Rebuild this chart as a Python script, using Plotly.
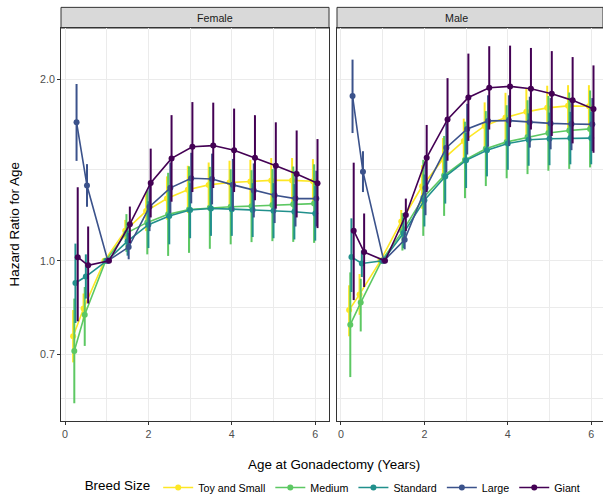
import plotly.graph_objects as go

# ---------------- data ----------------
ages = [0.25, 0.5, 1, 1.5, 2, 2.5, 3, 3.5, 4, 4.5, 5, 5.5, 6]
breeds = ["Toy and Small", "Medium", "Standard", "Large", "Giant"]
sexes = ["Female", "Male"]

# Female
f_toy_hr = [0.75, 0.834, 1.0, 1.122, 1.209, 1.268, 1.311, 1.336, 1.348, 1.353, 1.359, 1.359, 1.355]
f_toy_lo = [0.679, 0.794, 1.0, 1.085, 1.12, 1.17, 1.20, 1.22, 1.23, 1.235, 1.24, 1.24, 1.245]
f_toy_hi = [0.829, 0.883, 1.0, 1.169, 1.30, 1.38, 1.437, 1.455, 1.465, 1.47, 1.48, 1.48, 1.474]

f_med_hr = [0.709, 0.814, 1.0, 1.112, 1.158, 1.194, 1.216, 1.224, 1.229, 1.232, 1.237, 1.241, 1.244]
f_med_lo = [0.581, 0.723, 1.0, 1.035, 1.025, 1.019, 1.031, 1.047, 1.065, 1.074, 1.078, 1.075, 1.071]
f_med_hi = [0.866, 0.905, 1.0, 1.195, 1.308, 1.399, 1.434, 1.431, 1.418, 1.413, 1.419, 1.433, 1.445]

f_std_hr = [0.919, 0.942, 1.0, 1.078, 1.148, 1.187, 1.214, 1.221, 1.218, 1.214, 1.210, 1.206, 1.198]
f_std_lo = [0.789, 0.866, 1.0, 1.02, 1.05, 1.065, 1.09, 1.10, 1.10, 1.095, 1.09, 1.085, 1.08]
f_std_hi = [1.068, 1.025, 1.0, 1.14, 1.255, 1.31, 1.345, 1.355, 1.35, 1.345, 1.345, 1.34, 1.33]

f_lrg_hr = [1.696, 1.333, 1.0, 1.054, 1.229, 1.321, 1.370, 1.366, 1.336, 1.308, 1.284, 1.268, 1.268]
f_lrg_lo = [1.464, 1.229, 1.0, 1.006, 1.12, 1.2, 1.245, 1.24, 1.21, 1.18, 1.155, 1.14, 1.14]
f_lrg_hi = [1.963, 1.446, 1.0, 1.112, 1.35, 1.455, 1.51, 1.505, 1.475, 1.45, 1.425, 1.41, 1.41]

f_gnt_hr = [1.014, 0.983, 1.0, 1.15, 1.346, 1.478, 1.545, 1.552, 1.525, 1.482, 1.437, 1.392, 1.344]
f_gnt_lo = [0.794, 0.85, 1.0, 1.07, 1.18, 1.253, 1.30, 1.32, 1.30, 1.26, 1.22, 1.18, 1.133]
f_gnt_hi = [1.324, 1.14, 1.0, 1.23, 1.534, 1.743, 1.832, 1.828, 1.787, 1.743, 1.696, 1.644, 1.591]

# Male
m_toy_hr = [0.829, 0.880, 1.0, 1.162, 1.329, 1.473, 1.58, 1.673, 1.727, 1.765, 1.792, 1.806, 1.803]
m_toy_lo = [0.75, 0.814, 1.0, 1.11, 1.22, 1.36, 1.455, 1.53, 1.575, 1.6, 1.62, 1.64, 1.64]
m_toy_hi = [0.911, 0.951, 1.0, 1.214, 1.44, 1.597, 1.72, 1.83, 1.898, 1.93, 1.95, 1.954, 1.954]

m_med_hr = [0.784, 0.853, 1.0, 1.119, 1.272, 1.384, 1.469, 1.533, 1.574, 1.603, 1.628, 1.644, 1.654]
m_med_lo = [0.642, 0.764, 1.0, 1.04, 1.10, 1.187, 1.27, 1.33, 1.37, 1.392, 1.41, 1.42, 1.428]
m_med_hi = [0.957, 0.934, 1.0, 1.20, 1.47, 1.61, 1.70, 1.77, 1.81, 1.845, 1.875, 1.90, 1.915]

m_std_hr = [1.015, 0.99, 1.0, 1.112, 1.26, 1.379, 1.467, 1.525, 1.564, 1.587, 1.593, 1.597, 1.597]
m_std_lo = [0.888, 0.94, 1.0, 1.05, 1.14, 1.244, 1.32, 1.38, 1.415, 1.437, 1.44, 1.445, 1.445]
m_std_hi = [1.176, 1.04, 1.0, 1.18, 1.39, 1.53, 1.63, 1.69, 1.73, 1.755, 1.76, 1.765, 1.765]

m_lrg_hr = [1.875, 1.405, 1.0, 1.084, 1.32, 1.539, 1.654, 1.705, 1.707, 1.696, 1.689, 1.685, 1.683]
m_lrg_lo = [1.628, 1.30, 1.0, 1.045, 1.19, 1.40, 1.50, 1.545, 1.55, 1.54, 1.53, 1.525, 1.52]
m_lrg_hi = [2.154, 1.519, 1.0, 1.119, 1.46, 1.69, 1.82, 1.88, 1.88, 1.87, 1.86, 1.86, 1.86]

m_gnt_hr = [1.122, 1.034, 1.0, 1.191, 1.482, 1.715, 1.865, 1.935, 1.945, 1.927, 1.891, 1.844, 1.785]
m_gnt_lo = [0.861, 0.905, 1.0, 1.12, 1.30, 1.465, 1.58, 1.65, 1.665, 1.65, 1.61, 1.565, 1.51]
m_gnt_hi = [1.454, 1.198, 1.0, 1.268, 1.679, 2.007, 2.204, 2.267, 2.272, 2.252, 2.225, 2.175, 2.107]

y_tick_vals = [0.7, 1.0, 2.0]
y_tick_text = ["0.7", "1.0", "2.0"]
x_tick_vals = [0, 2, 4, 6]

# ---------------- styling ----------------
colors = ["#FDE725", "#5DC863", "#21908C", "#3B528B", "#440154"]
dodge = [-0.055, -0.027, 0.0, 0.027, 0.055]
FONT = "Liberation Sans, Arial, sans-serif"

series = {
    "Female": [(f_toy_hr, f_toy_lo, f_toy_hi), (f_med_hr, f_med_lo, f_med_hi),
               (f_std_hr, f_std_lo, f_std_hi), (f_lrg_hr, f_lrg_lo, f_lrg_hi),
               (f_gnt_hr, f_gnt_lo, f_gnt_hi)],
    "Male": [(m_toy_hr, m_toy_lo, m_toy_hi), (m_med_hr, m_med_lo, m_med_hi),
             (m_std_hr, m_std_lo, m_std_hi), (m_lrg_hr, m_lrg_lo, m_lrg_hi),
             (m_gnt_hr, m_gnt_lo, m_gnt_hi)],
}

fig = go.Figure()
for si, sex in enumerate(sexes):
    xa = "x" if si == 0 else "x2"
    ya = "y" if si == 0 else "y2"
    for k, name in enumerate(breeds):
        hr, lo, hi = series[sex][k]
        fig.add_trace(go.Scatter(
            x=[a + dodge[k] for a in ages], y=hr,
            mode="lines+markers", name=name, legendgroup=name,
            showlegend=(si == 0),
            line=dict(color=colors[k], width=1.6),
            marker=dict(color=colors[k], size=6),
            error_y=dict(type="data", symmetric=False,
                         array=[h - c for h, c in zip(hi, hr)],
                         arrayminus=[c - l for c, l in zip(hr, lo)],
                         width=0, thickness=2, color=colors[k]),
            xaxis=xa, yaxis=ya,
        ))

grid = "#EBEBEB"
border = "#333333"
y_minor = [0.5916, 0.8367, 1.4142, 2.4495]
ylog_range = [-0.2652, 0.3856]

common_x = dict(
    tickmode="array", tickvals=x_tick_vals, ticks="outside", ticklen=3,
    tickcolor=border, tickfont=dict(family=FONT, size=10.7, color="#4D4D4D"),
    showgrid=True, gridcolor=grid, gridwidth=1.2, zeroline=False,
    showline=True, mirror=True, linecolor=border, linewidth=1,
    minor=dict(tickvals=[1, 3, 5], showgrid=True, gridcolor=grid, gridwidth=0.7, ticks=""),
)
common_y = dict(
    type="log", range=ylog_range, tickmode="array", tickvals=y_tick_vals,
    ticktext=y_tick_text, showgrid=True, gridcolor=grid, gridwidth=1.2,
    zeroline=False, showline=True, mirror=True, linecolor=border, linewidth=1,
    minor=dict(tickvals=y_minor, showgrid=True, gridcolor=grid, gridwidth=0.7, ticks=""),
)

fdom = [0, 0.4945]
mdom = [0.5092, 1.0]
fig.update_layout(
    width=603, height=502,
    margin=dict(l=61, r=0, t=28, b=74),
    paper_bgcolor="white", plot_bgcolor="white",
    font=dict(family=FONT, color="#000000"),
    xaxis=dict(domain=fdom, range=[-0.096, 6.331], anchor="y", **common_x),
    xaxis2=dict(domain=mdom, range=[-0.096, 6.283], anchor="y2", **common_x),
    yaxis=dict(anchor="x", ticks="outside", ticklen=3, tickcolor=border,
               tickfont=dict(family=FONT, size=10.7, color="#4D4D4D"), **common_y),
    yaxis2=dict(anchor="x2", showticklabels=False, ticks="", **common_y),
    legend=dict(orientation="h", x=0.504, xanchor="center", y=-0.17, yanchor="middle",
                font=dict(family=FONT, size=10.7, color="#000000"),
                title=dict(text="Breed Size", font=dict(family=FONT, size=13.4)),
                itemwidth=30, bgcolor="rgba(0,0,0,0)"),
    showlegend=True,
)

# strips
for dom, lab in [(fdom, "Female"), (mdom, "Male")]:
    fig.add_shape(type="rect", xref="paper", yref="paper", x0=dom[0], x1=dom[1],
                  y0=1.0, y1=1.0525, fillcolor="#D9D9D9",
                  line=dict(color=border, width=1), layer="below")
    fig.add_annotation(xref="paper", yref="paper", x=(dom[0] + dom[1]) / 2, y=1.026,
                       text=lab, showarrow=False, yanchor="middle",
                       font=dict(family=FONT, size=10.7, color="#1A1A1A"))

fig.add_annotation(xref="paper", yref="paper", x=0.504, y=-0.11, text="Age at Gonadectomy (Years)",
                   showarrow=False, xanchor="center", yanchor="middle",
                   font=dict(family=FONT, size=13.4, color="#000000"))
fig.add_annotation(xref="paper", yref="paper", x=-0.085, y=0.5, text="Hazard Ratio for Age",
                   showarrow=False, textangle=-90, xanchor="center", yanchor="middle",
                   font=dict(family=FONT, size=13.4, color="#000000"))

fig.write_html("out.html")
